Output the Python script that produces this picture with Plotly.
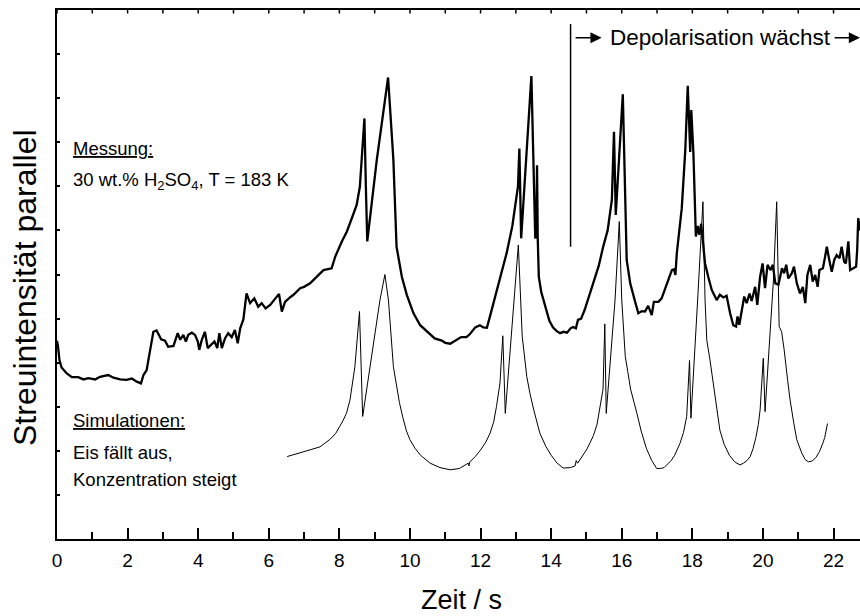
import plotly.graph_objects as go

# ---- data ----
meas_t = [0.0, 0.03, 0.07, 0.13, 0.27, 0.42, 0.6, 0.75, 0.89, 1.08, 1.22, 1.45, 1.6, 1.79, 1.97, 2.12,
          2.26, 2.38, 2.45, 2.54, 2.64, 2.73, 2.82, 2.95, 3.06, 3.15, 3.3, 3.42, 3.49, 3.58, 3.65, 3.72,
          3.82, 3.91, 3.99, 4.03, 4.1, 4.19, 4.27, 4.36, 4.46, 4.54, 4.6, 4.67, 4.76, 4.85, 4.95, 5.04,
          5.12, 5.19, 5.28, 5.37, 5.47, 5.59, 5.7, 5.8, 5.91, 6.04, 6.18, 6.29, 6.37, 6.46, 6.6, 6.7,
          6.89, 7.0, 7.17, 7.36, 7.55, 7.78, 7.88, 8.07, 8.21, 8.35, 8.49, 8.58, 8.63, 8.68, 8.71, 8.75,
          8.79, 9.06, 9.38, 9.45, 9.53, 9.62, 9.77, 9.91, 10.1, 10.29, 10.52, 10.7, 10.9, 11.0, 11.14,
          11.3, 11.45, 11.6, 11.7, 11.85, 11.98, 12.08, 12.18, 12.25, 12.36, 12.55, 12.74, 12.9, 12.98,
          13.06, 13.1, 13.15, 13.44, 13.55, 13.58, 13.6, 13.62, 13.65, 13.72, 13.83, 13.95, 14.05, 14.15,
          14.25, 14.35, 14.45, 14.55, 14.62, 14.7, 14.76, 14.85, 14.95, 15.05, 15.2, 15.35, 15.47, 15.6,
          15.72, 15.78, 15.83, 16.03, 16.14, 16.24, 16.38, 16.47, 16.57, 16.66, 16.75, 16.85, 16.91,
          17.04, 17.13, 17.28, 17.42, 17.48, 17.52, 17.56, 17.6, 17.7, 17.8, 17.87, 17.94, 17.97, 18.03,
          18.1, 18.15, 18.2, 18.25, 18.3, 18.36, 18.45, 18.55, 18.69, 18.78, 18.88, 18.97, 19.07, 19.16,
          19.24, 19.28, 19.33, 19.4, 19.47, 19.54, 19.62, 19.68, 19.78, 19.84, 19.92, 19.99, 20.06,
          20.13, 20.22, 20.28, 20.35, 20.44, 20.54, 20.6, 20.66, 20.72, 20.82, 20.88, 20.96, 21.05,
          21.13, 21.2, 21.26, 21.34, 21.41, 21.48, 21.55, 21.6, 21.7, 21.76, 21.81, 21.88, 21.95, 22.02,
          22.09, 22.17, 22.23, 22.3, 22.35, 22.42, 22.47, 22.56, 22.64, 22.67, 22.7, 22.75]
meas_I = [4.5, 4.36, 4.06, 3.89, 3.76, 3.67, 3.67, 3.62, 3.65, 3.62, 3.68, 3.72, 3.66, 3.62, 3.61, 3.64,
          3.57, 3.53, 3.72, 3.83, 4.29, 4.70, 4.73, 4.53, 4.50, 4.36, 4.38, 4.67, 4.52, 4.63, 4.48, 4.63,
          4.68, 4.63, 4.48, 4.29, 4.51, 4.70, 4.33, 4.40, 4.48, 4.33, 4.67, 4.33, 4.55, 4.67, 4.58, 4.74,
          4.44, 4.78, 4.98, 5.57, 5.35, 5.46, 5.27, 5.35, 5.23, 5.31, 5.46, 5.56, 5.16, 5.38, 5.48, 5.54,
          5.69, 5.72, 5.80, 5.95, 6.10, 6.14, 6.40, 6.75, 6.97, 7.27, 7.58, 7.99, 8.6, 9.1, 9.54, 8.0,
          6.75, 8.6, 10.47, 9.6, 8.6, 6.63, 5.95, 5.54, 5.12, 4.85, 4.67, 4.55, 4.5, 4.45, 4.43,
          4.5, 4.58, 4.58, 4.65, 4.8, 4.85, 4.80, 4.79, 5.0, 5.35, 5.9, 6.49, 7.1, 7.54,
          8.0, 8.86, 6.82, 10.5, 6.82, 6.9, 8.48, 6.82, 5.95, 5.6, 5.26, 4.95, 4.8, 4.72,
          4.67, 4.7, 4.68, 4.78, 4.81, 4.78, 4.97, 5.0, 5.2, 5.45, 5.8, 6.2, 6.62, 7.0,
          7.69, 9.24, 7.35, 10.09, 6.33, 5.8, 5.38, 5.12, 5.17, 5.16, 5.29, 5.08, 5.38,
          5.38, 5.46, 5.80, 6.10, 6.12, 5.99, 6.48, 6.78, 7.5, 8.82, 10.28, 8.78, 9.73, 8.76,
          6.86, 7.1, 6.9, 7.15, 6.8, 6.25, 5.95, 5.65, 5.42, 5.54, 5.48, 5.52, 5.12, 4.85,
          4.82, 5.05, 4.86, 5.16, 5.5, 5.35, 5.57, 5.4, 5.72, 5.31, 5.95, 6.25, 5.69,
          6.22, 6.1, 6.22, 5.8, 5.77, 6.14, 6.03, 6.22, 5.91, 6.03, 6.18, 5.8, 5.57,
          5.72, 5.35, 5.99, 6.22, 5.84, 5.99, 5.72, 6.1, 6.14, 6.4, 6.63, 6.33, 6.06, 6.33,
          6.44, 6.37, 6.63, 6.29, 6.25, 6.75, 6.1, 6.14, 6.18, 6.56, 7.28, 7.0]

sim_t = [6.52, 6.9, 7.2, 7.45, 7.6, 7.75, 7.9, 8.02, 8.1, 8.2, 8.3, 8.44, 8.57, 8.66, 9.15, 9.29,
         9.39, 9.53, 9.62, 9.7, 9.8, 9.9, 10.0, 10.15, 10.3, 10.57, 10.85, 11.14, 11.4, 11.63, 11.65,
         11.67, 11.7, 11.85, 12.0, 12.15, 12.27, 12.37, 12.45, 12.55, 12.63, 12.7, 12.95, 13.07, 13.18,
         13.31, 13.4, 13.5, 13.68, 13.85, 14.0, 14.17, 14.34, 14.55, 14.68, 14.71, 14.75, 14.9, 15.0,
         15.1, 15.2, 15.3, 15.39, 15.47, 15.52, 15.56, 15.81, 15.93, 16.0, 16.1, 16.17, 16.25, 16.43,
         16.55, 16.7, 16.85, 16.99, 17.1, 17.2, 17.28, 17.4, 17.5, 17.65, 17.75, 17.84, 17.92, 17.96,
         18.15, 18.3, 18.36, 18.41, 18.5, 18.64, 18.78, 18.9, 19.05, 19.2, 19.35, 19.45, 19.55, 19.64,
         19.72, 19.8, 19.87, 19.92, 20.01, 20.06, 20.3, 20.39, 20.44, 20.46, 20.53, 20.6, 20.7, 20.77,
         20.87, 20.96, 21.1, 21.2, 21.29, 21.4, 21.5, 21.6, 21.7, 21.75, 21.83]
sim_I = [1.87, 1.95, 2.03, 2.09, 2.17, 2.27, 2.4, 2.55, 2.68, 2.85, 3.15, 3.91, 5.16, 2.78, 5.42, 6.0,
         5.42, 3.91, 3.46, 3.1, 2.75, 2.45, 2.25, 2.05, 1.9, 1.72, 1.62, 1.57, 1.6, 1.7, 1.72,
         1.66, 1.75, 1.87, 2.02, 2.2, 2.4, 2.65, 3.0, 3.54, 4.61, 2.85, 5.42, 6.67, 4.6,
         3.68, 3.3, 2.95, 2.4, 2.1, 1.9, 1.72, 1.61, 1.62, 1.66, 1.78, 1.72, 1.9, 2.02,
         2.18, 2.35, 2.6, 3.0, 3.4, 4.88, 2.85, 5.42, 7.2, 5.42, 4.14, 3.8, 3.4, 2.85,
         2.45, 2.05, 1.78, 1.6, 1.6, 1.62, 1.68, 1.78, 1.9, 2.17, 2.42, 2.78, 4.05, 2.74,
         5.42, 7.65, 5.42, 4.51, 4.06, 3.23, 2.47, 2.15, 1.9, 1.75, 1.68, 1.72, 1.78, 1.87,
         2.05, 2.3, 2.6, 2.93, 4.1, 2.89, 5.9, 7.65, 5.42, 4.82, 4.7, 4.3, 3.6, 3.15,
         2.65, 2.25, 1.95, 1.8, 1.75, 1.77, 1.85, 1.98, 2.18, 2.3, 2.62]

x_range = [0, 22.75]
y_range = [0, 12]
top_ticks = list(range(0, 23))   # small tick marks on the top frame, every 1 s
marker_t = 14.55                 # vertical marker line
marker_I = [6.63, 11.68]
arrow_y = 11.37
arrow1_t = [14.65, 15.43]        # tail, head
arrow2_t = [21.99, 22.75]
depol_t = 18.79

FONT = "Liberation Sans, Arial, sans-serif"
PLOT_H = 616 - 10 - 77
top_tick_len = 3.5 * (y_range[1] - y_range[0]) / PLOT_H

fig = go.Figure()
fig.add_trace(go.Scatter(x=meas_t, y=meas_I, mode="lines",
                         line=dict(color="black", width=2.3), showlegend=False, hoverinfo="skip"))
fig.add_trace(go.Scatter(x=sim_t, y=sim_I, mode="lines",
                         line=dict(color="black", width=1), showlegend=False, hoverinfo="skip"))

for t in top_ticks:
    fig.add_shape(type="line", x0=t, x1=t, y0=y_range[1], y1=y_range[1] - top_tick_len,
                  xref="x", yref="y", line=dict(color="black", width=1.5))

fig.add_shape(type="line", x0=marker_t, x1=marker_t, y0=marker_I[0], y1=marker_I[1],
              xref="x", yref="y", line=dict(color="black", width=1.5))

for tail, head in (arrow1_t, arrow2_t):
    fig.add_annotation(x=head, y=arrow_y, ax=tail, ay=arrow_y, xref="x", yref="y",
                       axref="x", ayref="y", text="", showarrow=True,
                       arrowhead=2, arrowsize=1.4, arrowwidth=1.6, arrowcolor="black")

fig.add_annotation(x=depol_t, y=arrow_y, xref="x", yref="y", text="Depolarisation wächst",
                   showarrow=False, font=dict(family=FONT, size=22.5, color="black"),
                   xanchor="center", yanchor="middle")

def label(txt, py, size=18.5):
    fig.add_annotation(x=(70.5 - 57) / 803, y=(539 - py) / PLOT_H, xref="paper", yref="paper",
                       text=txt, showarrow=False, xanchor="left", yanchor="middle",
                       font=dict(family=FONT, size=size, color="black"))

label("<u>Messung:</u>", 148)
label("30 wt.% H<sub>2</sub>SO<sub>4</sub>, T = 183 K", 181)
label("<u>Simulationen:</u>", 420)
label("Eis fällt aus,", 452)
label("Konzentration steigt", 479)

fig.add_annotation(x=(461 - 57) / 803, y=(539 - 600) / PLOT_H, xref="paper", yref="paper",
                   text="Zeit / s", showarrow=False, xanchor="center", yanchor="middle",
                   font=dict(family=FONT, size=27, color="black"))
fig.add_annotation(x=(25 - 57) / 803, y=(539 - 288) / PLOT_H, xref="paper", yref="paper",
                   text="Streuintensität parallel", textangle=-90, showarrow=False,
                   xanchor="center", yanchor="middle",
                   font=dict(family=FONT, size=32, color="black"))

fig.update_layout(
    width=860, height=616,
    margin=dict(l=57, r=0, t=10, b=77),
    paper_bgcolor="white", plot_bgcolor="white",
    font=dict(family=FONT, color="black"),
    xaxis=dict(range=x_range, showline=True, linewidth=2, linecolor="black", mirror=True,
               ticks="inside", ticklen=11, tickwidth=2, tickcolor="black",
               tick0=0, dtick=2, showgrid=False, zeroline=False,
               ticklabelstandoff=3,
               tickfont=dict(family=FONT, size=19, color="black"),
               minor=dict(ticks="inside", ticklen=7, tickwidth=2, tickcolor="black",
                          dtick=1, showgrid=False)),
    yaxis=dict(range=y_range, showline=True, linewidth=2, linecolor="black",
               ticks="inside", ticklen=3, tickwidth=1.5, tickcolor="black",
               tick0=0, dtick=1, showticklabels=False, showgrid=False, zeroline=False),
)

fig.write_html("out.html")
